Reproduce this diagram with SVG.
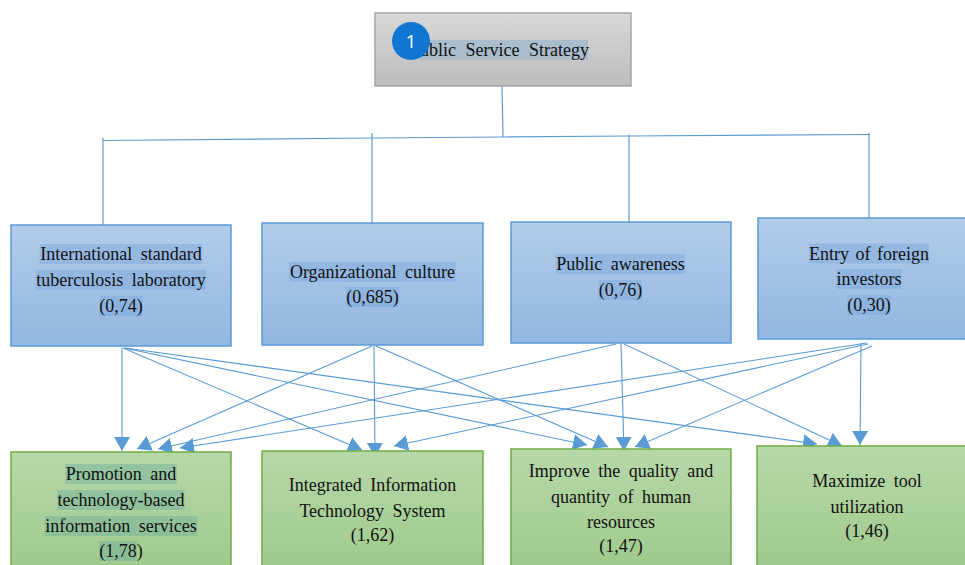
<svg xmlns="http://www.w3.org/2000/svg" width="965" height="565" viewBox="0 0 965 565">
  <defs>
    <linearGradient id="gGray" x1="0" y1="0" x2="0" y2="1">
      <stop offset="0" stop-color="#d8d8d8"/>
      <stop offset="1" stop-color="#bdbdbd"/>
    </linearGradient>
    <linearGradient id="gBlue" x1="0" y1="0" x2="0" y2="1">
      <stop offset="0" stop-color="#b3cce9"/>
      <stop offset="1" stop-color="#92b7e1"/>
    </linearGradient>
    <linearGradient id="gGreen" x1="0" y1="0" x2="0" y2="1">
      <stop offset="0" stop-color="#b7d8a9"/>
      <stop offset="1" stop-color="#9ec98a"/>
    </linearGradient>
    <marker id="arrow" viewBox="0 0 14 16" refX="14" refY="8" markerWidth="14" markerHeight="16" markerUnits="userSpaceOnUse" orient="auto">
      <path d="M0,0 L14,8 L0,16 Z" fill="#5b9bd5"/>
    </marker>
  </defs>
  <style>
    .txt { font-family: "Liberation Serif", "Times New Roman", serif; font-size: 18px; fill: #111; text-anchor: middle; word-spacing: 4px; }
    .blue { fill: url(#gBlue); stroke: #5b9bd5; stroke-width: 1.5; }
    .green { fill: url(#gGreen); stroke: #70ad47; stroke-width: 1.5; }
    .hlB { fill: #7aa6da; fill-opacity: 0.45; }
    .hlG { fill: #6fae9e; fill-opacity: 0.45; }
    .link { stroke: #5b9bd5; stroke-width: 1.2; fill: none; }
    .arr { stroke: #5b9bd5; stroke-width: 1.1; fill: none; marker-end: url(#arrow); }
  </style>

  <rect width="965" height="565" fill="#ffffff"/>

  <!-- tree connectors from the strategy box -->
  <g id="connectors">
    <line class="link" x1="502" y1="86" x2="503" y2="137"/>
    <polyline class="link" points="103,140.5 372,138 503,137 629,136 870,134.5"/>
    <line class="link" x1="103" y1="138" x2="103" y2="225"/>
    <line class="link" x1="372" y1="133" x2="372" y2="223"/>
    <line class="link" x1="629" y1="135" x2="629" y2="222"/>
    <line class="link" x1="869" y1="133" x2="869" y2="218"/>

    <!-- factor -> outcome arrows -->
    <line class="arr" x1="122" y1="348" x2="122" y2="451"/>
    <line class="arr" x1="123" y1="348" x2="362" y2="450"/>
    <line class="arr" x1="124" y1="348" x2="587" y2="445"/>
    <line class="arr" x1="125" y1="348" x2="817" y2="444"/>

    <line class="arr" x1="372" y1="346" x2="137" y2="449"/>
    <line class="arr" x1="374" y1="346" x2="375" y2="457"/>
    <line class="arr" x1="376" y1="346" x2="608" y2="447"/>

    <line class="arr" x1="616" y1="344" x2="158" y2="449"/>
    <line class="arr" x1="621" y1="344" x2="624" y2="451"/>
    <line class="arr" x1="624" y1="344" x2="842" y2="446"/>

    <line class="arr" x1="867" y1="343" x2="180" y2="448"/>
    <line class="arr" x1="868" y1="344" x2="394" y2="446"/>
    <line class="arr" x1="872" y1="346" x2="635" y2="447"/>
    <line class="arr" x1="861" y1="343" x2="860" y2="445"/>
  </g>

  <!-- strategy box with its numbered badge -->
  <g id="strategy">
    <rect x="375" y="13" width="256" height="73" fill="url(#gGray)" stroke="#a6a6a6" stroke-width="1.5"/>
    <rect x="420" y="40" width="168" height="20" fill="#aabdcc"/>
    <text class="txt" x="420" y="56" style="text-anchor:start;word-spacing:5px">ublic Service Strategy</text>
    <circle cx="411" cy="41" r="19" fill="#0f77d2"/>
    <text x="411" y="48" font-family="'Segoe UI', 'Open Sans', 'Liberation Sans', sans-serif" font-size="19" fill="#ffffff" text-anchor="middle">1</text>
  </g>

  <!-- factor boxes -->
  <g id="lab">
    <rect class="blue" x="11" y="225" width="220" height="121"/>
    <rect class="hlB" x="39.75" y="244" width="162.5" height="20"/>
    <rect class="hlB" x="35.8" y="270" width="170.4" height="20"/>
    <rect class="hlB" x="99.25" y="296" width="43.5" height="20"/>
    <text class="txt" x="121" y="260">International standard</text>
    <text class="txt" x="121" y="286">tuberculosis laboratory</text>
    <text class="txt" x="121" y="312">(0,74)</text>
  </g>

  <g id="culture">
    <rect class="blue" x="262" y="223" width="221" height="122"/>
    <rect class="hlB" x="289.25" y="262" width="166.5" height="20"/>
    <rect class="hlB" x="346.25" y="287" width="52.5" height="20"/>
    <text class="txt" x="372.5" y="278">Organizational culture</text>
    <text class="txt" x="372.5" y="303">(0,685)</text>
  </g>

  <g id="awareness">
    <rect class="blue" x="511" y="222" width="220" height="121"/>
    <rect class="hlB" x="555.75" y="254" width="129.5" height="20"/>
    <rect class="hlB" x="598.75" y="280" width="43.5" height="20"/>
    <text class="txt" x="620.5" y="270">Public awareness</text>
    <text class="txt" x="620.5" y="296">(0,76)</text>
  </g>

  <g id="investors">
    <rect class="blue" x="758" y="218" width="220" height="121"/>
    <rect class="hlB" x="809" y="243.5" width="120" height="20"/>
    <rect class="hlB" x="836.5" y="269" width="65" height="20"/>
    <rect class="hlB" x="847.25" y="295" width="43.5" height="20"/>
    <text class="txt" x="869" y="259.5" style="word-spacing:2px">Entry of foreign</text>
    <text class="txt" x="869" y="285">investors</text>
    <text class="txt" x="869" y="311">(0,30)</text>
  </g>

  <!-- outcome boxes -->
  <g id="promotion">
    <rect class="green" x="11" y="452" width="220" height="125"/>
    <rect class="hlG" x="65.25" y="464" width="111.5" height="20"/>
    <rect class="hlG" x="57.5" y="490" width="127" height="20"/>
    <rect class="hlG" x="44.75" y="516" width="152.5" height="20"/>
    <rect class="hlG" x="99.25" y="541" width="37.5" height="20"/>
    <text class="txt" x="121" y="480">Promotion and</text>
    <text class="txt" x="121" y="506">technology-based</text>
    <text class="txt" x="121" y="532">information services</text>
    <text class="txt" x="121" y="557">(1,78)</text>
  </g>

  <g id="itsystem">
    <rect class="green" x="262" y="451" width="221" height="126"/>
    <text class="txt" x="372.5" y="491">Integrated Information</text>
    <text class="txt" x="372.5" y="517">Technology System</text>
    <text class="txt" x="372.5" y="541">(1,62)</text>
  </g>

  <g id="humanres">
    <rect class="green" x="511" y="449" width="220" height="128"/>
    <text class="txt" x="621" y="477">Improve the quality and</text>
    <text class="txt" x="621" y="503">quantity of human</text>
    <text class="txt" x="621" y="528">resources</text>
    <text class="txt" x="621" y="552">(1,47)</text>
  </g>

  <g id="tools">
    <rect class="green" x="757" y="446" width="221" height="131"/>
    <text class="txt" x="867" y="487">Maximize tool</text>
    <text class="txt" x="867" y="512.5">utilization</text>
    <text class="txt" x="867" y="537">(1,46)</text>
  </g>
</svg>
